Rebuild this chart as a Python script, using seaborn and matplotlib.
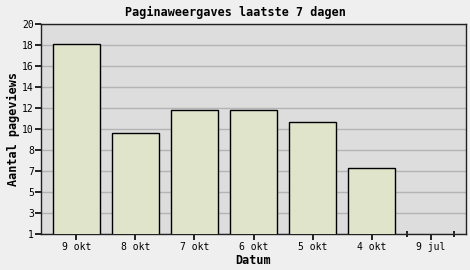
import matplotlib
matplotlib.use("Agg")
import matplotlib.pyplot as plt
import seaborn as sns
import pandas as pd

categories = ["9 okt", "8 okt", "7 okt", "6 okt", "5 okt", "4 okt", "9 jul"]
pageviews = [18.2, 10.1, 12.2, 12.2, 11.1, 7.0, 0.0]
ytick_values = [1.0, 2.9, 4.8, 6.7, 8.6, 10.5, 12.4, 14.3, 16.2, 18.1, 20.0]
ytick_labels = ["1", "3", "5", "7", "8", "10", "12", "14", "16", "18", "20"]

sns.set_style("ticks")
plt.rcParams["font.family"] = ["DejaVu Sans Mono", "DejaVu Sans"]

df = pd.DataFrame({"Datum": categories, "Pageviews": pageviews})

fig = plt.figure(figsize=(4.7, 2.7), dpi=100, facecolor="#efefef")
ax = fig.add_axes([41 / 470, 1 - 234 / 270, (466 - 41) / 470, (234 - 24) / 270])
ax.set_facecolor("#dddddd")
ax.set_axisbelow(True)

sns.barplot(data=df, x="Datum", y="Pageviews", color="#dfe4cb", edgecolor="black",
            linewidth=1.0, width=0.8, saturation=1, ax=ax, zorder=3)

ax.set_xlim(-0.6, 6.6)
ax.set_ylim(1, 20)
ax.set_yticks(ytick_values)
ax.set_yticklabels(ytick_labels)
ax.set_xticks(range(len(categories)))
ax.set_xticks([5.6, 6.4], minor=True)
ax.yaxis.grid(True, color="#b4b4b4", linewidth=1.0)
ax.xaxis.grid(False)

ax.tick_params(axis="both", which="major", bottom=True, left=True, direction="out",
               length=4, width=1.2, color="black", labelcolor="black", labelsize=7)
ax.tick_params(axis="x", which="major", pad=2)
ax.tick_params(axis="y", which="major", pad=1)
ax.tick_params(axis="x", which="minor", bottom=True, direction="inout", length=4,
               width=1.2, color="black")
ax.tick_params(axis="y", which="minor", left=False)
for s in ax.spines.values():
    s.set_visible(True)
    s.set_color("#222222")
    s.set_linewidth(1.0)

for tk in ax.xaxis.get_major_ticks() + ax.yaxis.get_major_ticks():
    tk.tick1line.set_clip_on(False)
    tk.tick1line.set_clip_path(None)

ax.set_xlabel("Datum", fontsize=8.5, fontweight="bold", labelpad=1, color="black")
ax.set_ylabel("Aantal pageviews", fontsize=8.5, fontweight="bold", labelpad=2, color="black")
fig.text(0.5, 1 - 12 / 270, "Paginaweergaves laatste 7 dagen", ha="center",
         va="center", fontsize=8.5, fontweight="bold", color="black")

fig.savefig("out.png", dpi=100, facecolor=fig.get_facecolor())
